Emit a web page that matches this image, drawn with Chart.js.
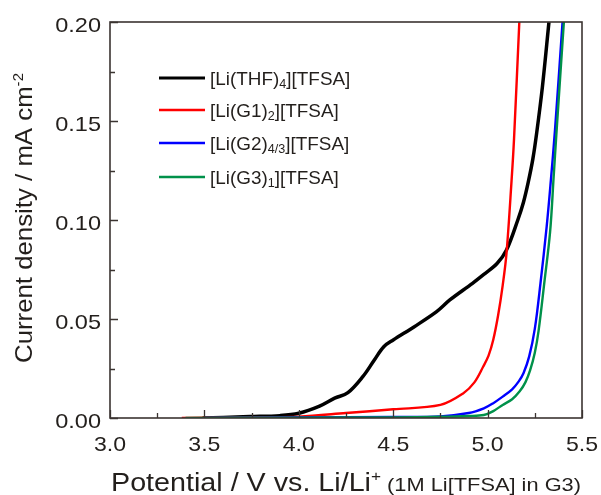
<!DOCTYPE html>
<html>
<head>
<meta charset="utf-8">
<script src="https://cdn.jsdelivr.net/npm/chart.js@4"></script>
<style>
  html, body { margin: 0; padding: 0; background: #fff; }
  canvas { display: block; }
</style>
</head>
<body>
<canvas id="lsv" width="601" height="495"></canvas>
<script>
// legend names, subscripts written as _{...}
const seriesNames = ["[Li(THF)_{4}][TFSA]", "[Li(G1)_{2}][TFSA]", "[Li(G2)_{4/3}][TFSA]", "[Li(G3)_{1}][TFSA]"];

// potential (V) and current density (mA cm-2)
const thfV = [3.49, 3.6, 3.74, 3.9, 4.0, 4.11, 4.19, 4.26, 4.34, 4.40, 4.45, 4.50, 4.61, 4.73, 4.80, 4.92, 4.98, 5.05, 5.10, 5.16, 5.19, 5.215, 5.24, 5.26, 5.29, 5.325];
const thfI = [0.0, 0.0003, 0.0007, 0.0012, 0.0024, 0.006, 0.010, 0.0128, 0.021, 0.0293, 0.036, 0.0394, 0.046, 0.0537, 0.0596, 0.068, 0.0725, 0.078, 0.0848, 0.100, 0.109, 0.119, 0.131, 0.144, 0.167, 0.20];

const g1V = [3.38, 3.6, 3.8, 4.0, 4.25, 4.5, 4.75, 4.87, 4.93, 4.977, 5.005, 5.03, 5.056, 5.08, 5.10, 5.127, 5.14, 5.168];
const g1I = [0.0, 0.0002, 0.0004, 0.0007, 0.0025, 0.0044, 0.0066, 0.0124, 0.018, 0.026, 0.0315, 0.0395, 0.052, 0.067, 0.083, 0.120, 0.141, 0.20];

const g2V = [3.5, 4.0, 4.5, 4.75, 4.9, 4.98, 5.03, 5.08, 5.13, 5.165, 5.19, 5.22, 5.25, 5.28, 5.313, 5.335, 5.357, 5.397];
const g2I = [0.0, 0.0003, 0.0005, 0.0008, 0.0025, 0.0049, 0.0075, 0.0108, 0.0145, 0.0185, 0.0226, 0.031, 0.045, 0.068, 0.0968, 0.12, 0.1455, 0.20];

const g3V = [3.4, 4.0, 4.5, 4.75, 4.9, 4.98, 5.03, 5.08, 5.13, 5.17, 5.20, 5.225, 5.25, 5.27, 5.30, 5.331, 5.35, 5.364, 5.404];
const g3I = [0.0, 0.0002, 0.0003, 0.0006, 0.001, 0.0015, 0.0035, 0.0066, 0.0095, 0.0135, 0.018, 0.024, 0.033, 0.044, 0.068, 0.094, 0.122, 0.143, 0.20];

// axis ticks
const xTicks = [3.0, 3.5, 4.0, 4.5, 5.0, 5.5];
const xTickLabels = ["3.0", "3.5", "4.0", "4.5", "5.0", "5.5"];
const yTicks = [0.00, 0.05, 0.10, 0.15, 0.20];
const yTickLabels = ["0.00", "0.05", "0.10", "0.15", "0.20"];

const seriesColors = ["#000000", "#ff0000", "#0000ff", "#00914a"];
const seriesWidths = [3.5, 2.4, 2.4, 2.4];
const axisColor = "#3b3431";
const textColor = "#231f1c";
const FONT = '"Liberation Sans", Arial, Helvetica, sans-serif';

const pairs = (xs, ys) => xs.map((v, i) => ({ x: v, y: ys[i] }));
const seriesData = [pairs(thfV, thfI), pairs(g1V, g1I), pairs(g2V, g2I), pairs(g3V, g3I)];

// draws a run of text pieces [{t, size, dy}] stretched horizontally by sx
function richWidth(ctx, parts) {
  let w = 0;
  parts.forEach(p => { ctx.font = p.size + "px " + FONT; w += ctx.measureText(p.t).width; });
  return w;
}
function drawRich(ctx, parts, x, y, sx) {
  ctx.save();
  ctx.translate(x, y);
  ctx.scale(sx, 1);
  let cx = 0;
  parts.forEach(p => {
    ctx.font = p.size + "px " + FONT;
    ctx.fillText(p.t, cx, p.dy || 0);
    cx += ctx.measureText(p.t).width;
  });
  ctx.restore();
}
function legendParts(name) {
  return name.split(/_\{(.*?)\}/).map((t, i) => i % 2 ? { t, size: 12, dy: 3 } : { t, size: 18, dy: 0 });
}

const decorations = {
  id: "decorations",
  afterDraw(chart) {
    const { ctx, chartArea: a, scales: { x, y } } = chart;
    ctx.save();

    // inward ticks, major and minor
    ctx.strokeStyle = axisColor;
    ctx.lineWidth = 1.3;
    ctx.beginPath();
    xTicks.forEach((v, i) => {
      const px = Math.round(x.getPixelForValue(v)) + 0.5;
      ctx.moveTo(px, a.bottom); ctx.lineTo(px, a.bottom - 8);
      if (i < xTicks.length - 1) {
        const m = Math.round(x.getPixelForValue((v + xTicks[i + 1]) / 2)) + 0.5;
        ctx.moveTo(m, a.bottom); ctx.lineTo(m, a.bottom - 5);
      }
    });
    yTicks.forEach((v, i) => {
      const py = Math.round(y.getPixelForValue(v)) + 0.5;
      ctx.moveTo(a.left, py); ctx.lineTo(a.left + 8, py);
      if (i < yTicks.length - 1) {
        const m = Math.round(y.getPixelForValue((v + yTicks[i + 1]) / 2)) + 0.5;
        ctx.moveTo(a.left, m); ctx.lineTo(a.left + 5, m);
      }
    });
    ctx.stroke();

    // frame
    ctx.lineWidth = 1.6;
    ctx.strokeRect(a.left, a.top, a.right - a.left, a.bottom - a.top);

    // tick labels
    ctx.fillStyle = textColor;
    ctx.font = "21px " + FONT;
    ctx.textBaseline = "alphabetic";
    xTicks.forEach((v, i) => {
      ctx.save();
      ctx.translate(x.getPixelForValue(v), 451);
      ctx.scale(1.1, 1);
      ctx.textAlign = "center";
      ctx.fillText(xTickLabels[i], 0, 0);
      ctx.restore();
    });
    yTicks.forEach((v, i) => {
      ctx.save();
      ctx.translate(a.left - 9, y.getPixelForValue(v) + 9.5);
      ctx.scale(1.12, 1);
      ctx.textAlign = "right";
      ctx.fillText(yTickLabels[i], 0, 0);
      ctx.restore();
    });
    ctx.textAlign = "left";

    // x title
    const xParts = [
      { t: "Potential / V vs. Li/Li", size: 25 },
      { t: "+", size: 15, dy: -10 },
      { t: " (1M Li[TFSA] in G3)", size: 19 }
    ];
    const xw = richWidth(ctx, xParts);
    const xs = (a.right - a.left - 2) / xw;
    drawRich(ctx, xParts, a.left + 1, 491, xs);

    // y title, rotated
    const yParts = [
      { t: "Current density / mA cm", size: 24 },
      { t: "-2", size: 14, dy: -9 }
    ];
    const yw = richWidth(ctx, yParts);
    ctx.save();
    ctx.translate(32, (a.top + a.bottom) / 2 - 2);
    ctx.rotate(-Math.PI / 2);
    drawRich(ctx, yParts, -290 / 2, 0, 290 / yw);
    ctx.restore();

    // legend
    seriesNames.forEach((name, i) => {
      const ly = [78, 110, 143, 177][i];
      ctx.strokeStyle = seriesColors[i];
      ctx.lineWidth = i === 0 ? 3 : 2.4;
      ctx.beginPath();
      ctx.moveTo(159, ly); ctx.lineTo(205, ly);
      ctx.stroke();
      ctx.fillStyle = textColor;
      drawRich(ctx, legendParts(name), 210, ly + 6.5, 1.05);
    });

    ctx.restore();
  }
};

new Chart(document.getElementById("lsv"), {
  type: "line",
  data: {
    datasets: seriesNames.map((name, i) => ({
      label: name,
      data: seriesData[i],
      borderColor: seriesColors[i],
      borderWidth: seriesWidths[i],
      pointRadius: 0,
      fill: false,
      tension: 0.35,
      order: [4, 3, 2, 1][i]
    }))
  },
  options: {
    responsive: false,
    animation: false,
    devicePixelRatio: 1,
    layout: { padding: { top: 22, right: 19, left: 0, bottom: 0 } },
    plugins: { legend: { display: false }, tooltip: { enabled: false } },
    scales: {
      x: {
        type: "linear", min: 3.0, max: 5.5,
        grid: { display: false }, border: { display: false },
        ticks: { display: false },
        afterFit: s => { s.height = 77; }
      },
      y: {
        min: 0, max: 0.2,
        grid: { display: false }, border: { display: false },
        ticks: { display: false },
        afterFit: s => { s.width = 110; }
      }
    }
  },
  plugins: [decorations]
});
</script>
</body>
</html>
